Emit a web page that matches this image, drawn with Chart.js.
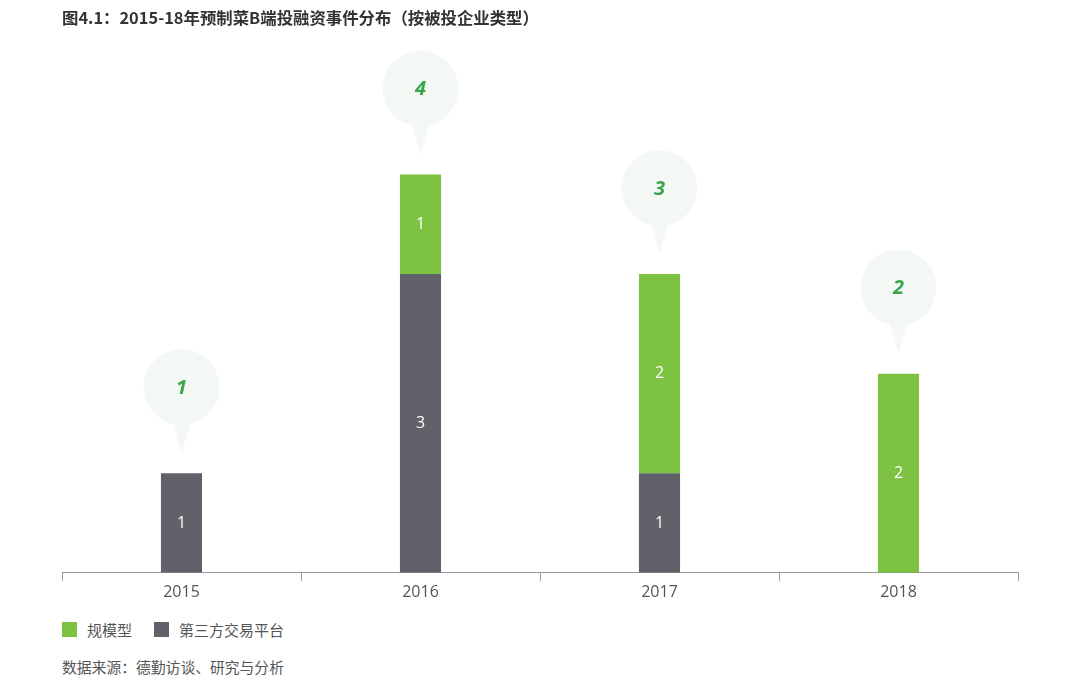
<!DOCTYPE html>
<html>
<head>
<meta charset="utf-8">
<script src="https://cdn.jsdelivr.net/npm/chart.js@4"></script>
<style>
  body { margin: 0; background: #fff; font-family: "Open Sans", "Noto Sans CJK SC", sans-serif; }
  #wrap { position: relative; width: 1080px; height: 681px; }
  #title { position: absolute; left: 62px; top: 5px; font-size: 16.4px; font-weight: bold; color: #333; font-family: "Noto Sans CJK SC", sans-serif; }
  #chartBox { position: absolute; left: 0; top: 0; width: 1080px; height: 610px; }
  #legend { position: absolute; left: 62px; top: 619px; font-size: 15px; color: #555; font-family: "Noto Sans CJK SC", sans-serif; display: flex; }
  #legend span.item { display: flex; align-items: center; margin-right: 22px; }
  #legend span.box { width: 15px; height: 15px; display: inline-block; margin-right: 10px; }
  #source { position: absolute; left: 62px; top: 656px; font-size: 14.8px; color: #555; font-family: "Noto Sans CJK SC", sans-serif; }
</style>
</head>
<body>
<div id="wrap">
  <div id="chartBox"><canvas id="chart"></canvas></div>
  <div id="title">图4.1：2015-18年预制菜B端投融资事件分布（按被投企业类型）</div>
  <div id="legend"></div>
  <div id="source">数据来源：德勤访谈、研究与分析</div>
</div>
<script>
// categories and series
var years = ['2015', '2016', '2017', '2018'];
var scaleType = [0, 1, 2, 2];      // 规模型
var platformType = [1, 3, 1, 0];   // 第三方交易平台

var green = '#7dc242';
var gray = '#606169';

// legend (html)
var legendItems = [['规模型', green], ['第三方交易平台', gray]];
var legendEl = document.getElementById('legend');
legendItems.forEach(function(it) {
    var s = document.createElement('span');
    s.className = 'item';
    s.innerHTML = '<span class="box" style="background:' + it[1] + '"></span>' + it[0];
    legendEl.appendChild(s);
});

// draws the numbers inside bars and the total bubbles
var labelPlugin = {
    id: 'labels',
    afterDatasetsDraw: function(chart) {
        var ctx = chart.ctx;
        var yScale = chart.scales.y;
        var xScale = chart.scales.x;
        ctx.save();
        chart.data.datasets.forEach(function(ds, di) {
            var meta = chart.getDatasetMeta(di);
            meta.data.forEach(function(bar, i) {
                if (!ds.data[i]) return;
                ctx.fillStyle = '#fff';
                ctx.font = '16px "Open Sans"';
                ctx.textAlign = 'center';
                ctx.textBaseline = 'middle';
                ctx.fillText(ds.data[i], bar.x, (bar.y + bar.base) / 2);
            });
        });
        years.forEach(function(y, i) {
            var total = scaleType[i] + platformType[i];
            var cx = xScale.getPixelForValue(i);
            var top = yScale.getPixelForValue(total);
            var cy = top - 86;
            var r = 38;
            ctx.fillStyle = '#f4f8f5';
            ctx.beginPath();
            ctx.arc(cx, cy, r, 0, Math.PI * 2);
            ctx.fill();
            ctx.beginPath();
            ctx.moveTo(cx - 9, cy + r - 4);
            ctx.lineTo(cx + 9, cy + r - 4);
            ctx.lineTo(cx, top - 20);
            ctx.closePath();
            ctx.fill();
            ctx.fillStyle = '#3aa64c';
            ctx.font = 'italic bold 20px "Open Sans"';
            ctx.textAlign = 'center';
            ctx.textBaseline = 'middle';
            ctx.fillText(total, cx, cy + 1);
        });
        ctx.restore();
    }
};

var ctx = document.getElementById('chart').getContext('2d');
var chart = new Chart(ctx, {
    type: 'bar',
    data: {
        labels: years,
        datasets: [
            { label: '第三方交易平台', data: platformType, backgroundColor: gray },
            { label: '规模型', data: scaleType, backgroundColor: green }
        ]
    },
    options: {
        responsive: true,
        maintainAspectRatio: false,
        animation: false,
        layout: { padding: { left: 62, right: 62, top: 75, bottom: 6 } },
        datasets: { bar: { barPercentage: 0.172, categoryPercentage: 1.0 } },
        plugins: { legend: { display: false }, tooltip: { enabled: false } },
        scales: {
            x: {
                stacked: true,
                offset: true,
                border: { display: true, color: '#9a9a9a', width: 1 },
                grid: { display: true, drawOnChartArea: false, drawTicks: true, tickLength: 8, color: '#9a9a9a', offset: true },
                ticks: { color: '#555', font: { size: 16, family: 'Open Sans' }, padding: 2 }
            },
            y: {
                stacked: true,
                display: false,
                min: 0,
                max: 5
            }
        }
    },
    plugins: [labelPlugin]
});
</script>
</body>
</html>
